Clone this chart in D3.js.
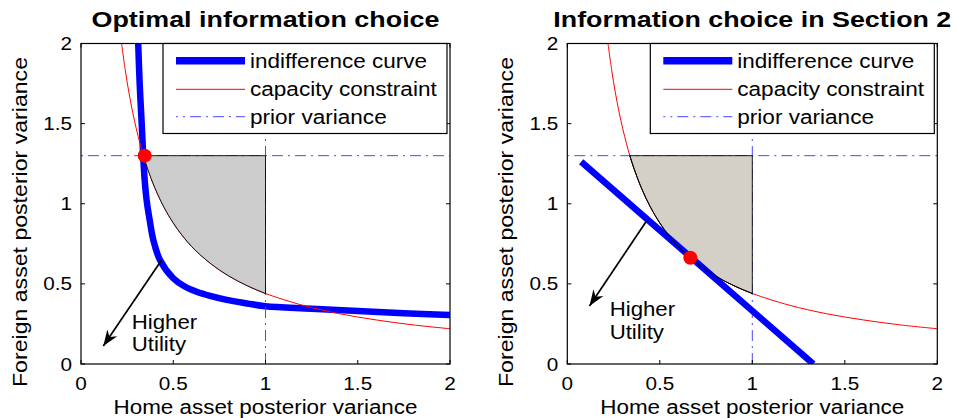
<!DOCTYPE html>
<html><head><meta charset="utf-8">
<script src="https://cdn.jsdelivr.net/npm/d3@7"></script>
<style>body{margin:0;background:#fff} text{font-family:"Liberation Sans",Arial,Helvetica,sans-serif;fill:#000}</style>
</head><body><svg id="c" width="956" height="418"></svg>
<script>
// ---------- data ----------
const titles = ["Optimal information choice", "Information choice in Section 2"];
const xTicks = [0, 0.5, 1, 1.5, 2];
const yTicks = [0, 0.5, 1, 1.5, 2];
const xLabel = "Home asset posterior variance";
const yLabel = "Foreign asset posterior variance";
const legendLabels = ["indifference curve", "capacity constraint", "prior variance"];
const priorHome = 1.0;
const priorForeign = 1.3;
// capacity constraint
const capacityX = [0.22,0.24,0.26,0.28,0.30,0.32,0.338,0.36,0.40,0.45,0.50,0.55,0.60,0.70,0.80,0.90,1.00,1.20,1.40,1.60,1.80,2.00];
const capacityY = [2.00,1.833,1.692,1.571,1.467,1.375,1.30,1.222,1.10,0.978,0.88,0.80,0.733,0.629,0.55,0.489,0.44,0.367,0.314,0.275,0.244,0.22];
// indifference curve, left panel
const indiffLeftX = [0.310,0.318,0.329,0.337,0.345,0.356,0.372,0.392,0.428,0.50,0.56,0.627,0.70,0.79,0.90,1.00,1.25,1.50,1.75,2.00];
const indiffLeftY = [2.00,1.75,1.50,1.30,1.15,1.02,0.90,0.774,0.649,0.535,0.485,0.451,0.425,0.400,0.378,0.360,0.345,0.330,0.317,0.306];
// indifference line, right panel
const indiffRightX = [0.075, 1.33];
const indiffRightY = [1.262, 0.0];
// optimum points
const optimumX = [0.345, 0.665];
const optimumY = [1.30, 0.663];
// arrows: [fromX, fromY, toX, toY]
const arrowLeft = [0.437, 0.649, 0.121, 0.112];
const arrowRight = [0.429, 0.894, 0.120, 0.362];
const noteLines = ["Higher", "Utility"];
const noteX = [0.275, 0.229];
const noteY1 = [0.218, 0.298];
const noteY2 = [0.081, 0.154];
const shadeColors = ["#cccccc", "#d4d0c8"];

// ---------- layout ----------
const svg = d3.select("#c");
const yTop = 43.5, yBot = 364;
const panels = [
  {x0: 81, x1: 450, yLabX: 26.5, title: titles[0], len: 348},
  {x0: 567.3, x1: 937.3, yLabX: 513, title: titles[1], len: 398}
];
const defs = svg.append("defs");
defs.append("marker").attr("id","ah").attr("markerUnits","userSpaceOnUse")
  .attr("viewBox","0 -7 16 14").attr("refX",16).attr("refY",0)
  .attr("markerWidth",16).attr("markerHeight",14).attr("orient","auto")
  .append("path").attr("d","M0,-6 L16,0 L0,6 L5,0 Z").attr("fill","#000");

function stext(g, s, x, y, size, anchor, sx) {
  return g.append("text").attr("transform",`translate(${x},${y}) scale(${sx||1.13},1)`)
    .attr("text-anchor",anchor||"start").style("font-size",size+"px").text(s);
}

panels.forEach((p, i) => {
  const g = svg.append("g");
  const x = d3.scaleLinear().domain([0,2]).range([p.x0, p.x1]);
  const y = d3.scaleLinear().domain([0,2]).range([yBot, yTop]);
  const cid = "clip"+i;
  defs.append("clipPath").attr("id",cid).append("rect")
    .attr("x",p.x0).attr("y",yTop).attr("width",p.x1-p.x0).attr("height",yBot-yTop);
  const pg = g.append("g").attr("clip-path",`url(#${cid})`);

  const straight = d3.line().x(d=>x(d[0])).y(d=>y(d[1]));
  const smooth = d3.line().x(d=>x(d[0])).y(d=>y(d[1])).curve(d3.curveCatmullRom.alpha(0.5));
  // indifference curve
  if (i === 0) {
    const pts = indiffLeftX.map((v,k)=>[v, indiffLeftY[k]]);
    pg.append("path").attr("d", smooth(pts))
      .attr("fill","none").attr("stroke","#0000ff").attr("stroke-width",6.5);
  }
  // capacity constraint
  const cap = capacityX.map((v,k)=>[v, capacityY[k]]);
  pg.append("path").attr("d", smooth(cap))
    .attr("fill","none").attr("stroke","#ff0000").attr("stroke-width",1);
  // prior variance lines
  pg.append("line").attr("x1",x(0)).attr("x2",x(2)).attr("y1",y(priorForeign)).attr("y2",y(priorForeign))
    .attr("stroke","#4848ff").attr("stroke-width",1).attr("stroke-dasharray","11,5,2,5").attr("stroke-dashoffset",-7);
  pg.append("line").attr("x1",x(priorHome)).attr("x2",x(priorHome)).attr("y1",y(0)).attr("y2",y(2))
    .attr("stroke","#4848ff").attr("stroke-width",1).attr("stroke-dasharray","11,5,2,5");
  // shaded feasible region
  const region = cap.filter(d => d[1] <= priorForeign && d[0] <= priorHome);
  const area = d3.area().x(d=>x(d[0])).y0(y(priorForeign)).y1(d=>y(d[1])).curve(d3.curveMonotoneX);
  pg.append("path").attr("d", area(region)).attr("fill", shadeColors[i])
    .attr("stroke","#000").attr("stroke-width",0.9);
  if (i === 1) {
    const pts = indiffRightX.map((v,k)=>[v, indiffRightY[k]]);
    pg.append("path").attr("d", straight(pts))
      .attr("fill","none").attr("stroke","#0000ff").attr("stroke-width",6.5);
    pg.append("path").attr("d", smooth(region))
      .attr("fill","none").attr("stroke","#000").attr("stroke-width",0.9);
  }
  // optimum
  g.append("circle").attr("cx",x(optimumX[i])).attr("cy",y(optimumY[i])).attr("r",7).attr("fill","#ff0000");
  // arrow
  const a = i === 0 ? arrowLeft : arrowRight;
  g.append("line").attr("x1",x(a[0])).attr("y1",y(a[1])).attr("x2",x(a[2])).attr("y2",y(a[3]))
    .attr("stroke","#000").attr("stroke-width",1.7).attr("marker-end","url(#ah)");
  stext(g, noteLines[0], x(noteX[i]), y(noteY1[i]), 19.5, "start", 1.14);
  stext(g, noteLines[1], x(noteX[i]), y(noteY2[i]), 19.5, "start", 1.14);

  // frame and ticks
  g.append("rect").attr("x",p.x0).attr("y",yTop).attr("width",p.x1-p.x0).attr("height",yBot-yTop)
    .attr("fill","none").attr("stroke","#000").attr("stroke-width",1.2);
  const tl = 4;
  xTicks.forEach(t => {
    g.append("line").attr("x1",x(t)).attr("x2",x(t)).attr("y1",yBot).attr("y2",yBot-tl).attr("stroke","#000");
    g.append("line").attr("x1",x(t)).attr("x2",x(t)).attr("y1",yTop).attr("y2",yTop+tl).attr("stroke","#000");
    stext(g, String(t), x(t), 390, 18.5, "middle", 1.12);
  });
  yTicks.forEach(t => {
    g.append("line").attr("x1",p.x0).attr("x2",p.x0+tl).attr("y1",y(t)).attr("y2",y(t)).attr("stroke","#000");
    g.append("line").attr("x1",p.x1).attr("x2",p.x1-tl).attr("y1",y(t)).attr("y2",y(t)).attr("stroke","#000");
    stext(g, String(t), p.x0-9, y(t)+6.6, 18.5, "end", 1.12);
  });

  // legend
  const lx = p.x1 - 287, lw = 284, lh = 90;
  const lg = g.append("g");
  lg.append("rect").attr("x",lx).attr("y",yTop).attr("width",lw).attr("height",lh)
    .attr("fill","#fff").attr("stroke","#000").attr("stroke-width",1.2);
  const rows = [17.2, 45.8, 73.2];
  const lens = [177, 186.7, 136.7];
  const styles = [
    {c:"#0000ff", w:7.5, d:null},
    {c:"#ff0000", w:1, d:null},
    {c:"#4848ff", w:1, d:"11,5,2,5"}
  ];
  legendLabels.forEach((lab, k) => {
    const yy = yTop + rows[k];
    const l = lg.append("line").attr("x1",lx+13).attr("x2",lx+82).attr("y1",yy).attr("y2",yy)
      .attr("stroke",styles[k].c).attr("stroke-width",styles[k].w);
    if (styles[k].d) l.attr("stroke-dasharray",styles[k].d).attr("stroke-dashoffset",-14);
    lg.append("text").attr("x",lx+87).attr("y",yy+6.8).style("font-size","19.5px")
      .attr("textLength",lens[k]).attr("lengthAdjust","spacingAndGlyphs").text(lab);
  });

  // titles & labels
  g.append("text").attr("x",(p.x0+p.x1)/2).attr("y",27).attr("text-anchor","middle")
    .style("font-size","22.5px").style("font-weight","bold")
    .attr("textLength",p.len).attr("lengthAdjust","spacingAndGlyphs").text(p.title);
  g.append("text").attr("x",(p.x0+p.x1)/2).attr("y",414).attr("text-anchor","middle")
    .style("font-size","19.5px").attr("textLength",304).attr("lengthAdjust","spacingAndGlyphs").text(xLabel);
  g.append("text").attr("transform",`translate(${p.yLabX},222) rotate(-90)`).attr("text-anchor","middle")
    .style("font-size","19.5px").attr("textLength",330).attr("lengthAdjust","spacingAndGlyphs").text(yLabel);
});
</script></body></html>
